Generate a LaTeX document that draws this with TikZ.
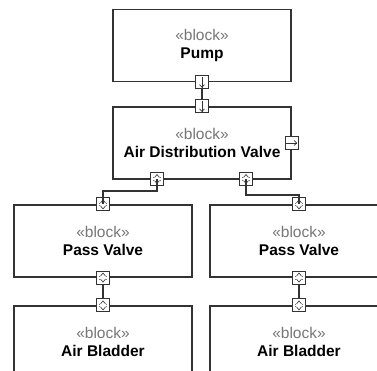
\documentclass[tikz,border=0pt]{standalone}
\usepackage{fontspec}
\setmainfont{Liberation Sans}
\usetikzlibrary{calc}

\definecolor{edge}{HTML}{333333}
\definecolor{stereo}{HTML}{777777}

\tikzset{
  block/.style={draw=edge, line width=1.2pt, fill=white, minimum width=178pt,
    minimum height=72pt, align=center, inner sep=0pt,
    font=\fontsize{15.5}{18.5}\selectfont},
  port/.style={draw=edge, line width=1pt, fill=white, minimum size=13pt, inner sep=0pt},
  glyph/.style={draw=edge, line width=0.6pt},
  wire/.style={draw=edge, line width=1.2pt},
  portdown/.style={port, path picture={
    \coordinate (c) at (path picture bounding box.center);
    \draw[glyph] ($(c)+(0,-5.5)$) -- ($(c)+(0,5.5)$);
    \draw[glyph] ($(c)+(-2.5,2.5)$) -- ($(c)+(0,5)$) -- ($(c)+(2.5,2.5)$);}},
  portright/.style={port, path picture={
    \coordinate (c) at (path picture bounding box.center);
    \draw[glyph] ($(c)+(-5.5,0)$) -- ($(c)+(5.5,0)$);
    \draw[glyph] ($(c)+(2.5,-2.5)$) -- ($(c)+(5,0)$) -- ($(c)+(2.5,2.5)$);}},
  portinout/.style={port, path picture={
    \coordinate (c) at (path picture bounding box.center);
    \draw[glyph] ($(c)+(-2.5,-1.5)$) -- ($(c)+(0,-4.5)$) -- ($(c)+(2.5,-1.5)$);
    \draw[glyph] ($(c)+(-2.5,1.5)$) -- ($(c)+(0,4.5)$) -- ($(c)+(2.5,1.5)$);
    \draw[draw=stereo, line width=0.4pt, dotted] ($(c)+(-3.5,-1.5)$) -- ($(c)+(-3.5,1.5)$);
    \draw[draw=stereo, line width=0.4pt, dotted] ($(c)+(3.5,-1.5)$) -- ($(c)+(3.5,1.5)$);}}
}

\newcommand{\blocktext}[1]{{\color{stereo}«block»}\\\textbf{#1}}

\begin{document}
\begin{tikzpicture}[x=1pt,y=-1pt]
\useasboundingbox (0,0) rectangle (377,371);
\clip (0,0) rectangle (377,371);

% blocks
\node[block] (pump) at (202,45.5) {\blocktext{Pump}};
\node[block] (adv) at (202,143) {\blocktext{Air Distribution Valve}};
\node[block] (pvl) at (103,241) {\blocktext{Pass Valve}};
\node[block] (pvr) at (299,241) {\blocktext{Pass Valve}};
\node[block] (abl) at (103,342) {\blocktext{Air Bladder}};
\node[block] (abr) at (299,342) {\blocktext{Air Bladder}};

% ports
\node[portdown] (pumpout) at (pump.south) {};
\node[portdown] (advin) at (adv.north) {};
\node[portright] (advout) at (adv.east) {};
\node[portinout] (advl) at (157,179) {};
\node[portinout] (advr) at (246,179) {};
\node[portinout] (pvlin) at (pvl.north) {};
\node[portinout] (pvlout) at (pvl.south) {};
\node[portinout] (pvrin) at (pvr.north) {};
\node[portinout] (pvrout) at (pvr.south) {};
\node[portinout] (ablin) at (abl.north) {};
\node[portinout] (abrin) at (abr.north) {};

% connectors
\draw[wire] (pumpout) -- (advin);
\draw[wire] (advl.center) -- ++(0,12) -| (pvlin.center);
\draw[wire] (advr.center) -- ++(0,16) -| (pvrin.center);
\draw[wire] (pvlout) -- (ablin);
\draw[wire] (pvrout) -- (abrin);
\end{tikzpicture}
\end{document}
